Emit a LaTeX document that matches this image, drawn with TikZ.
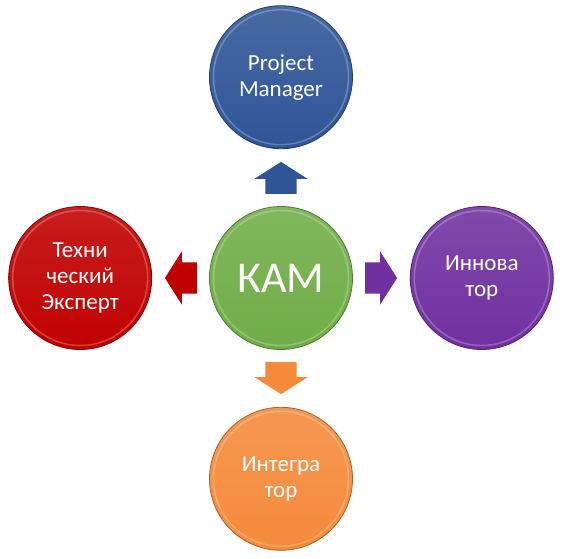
\documentclass[tikz,border=0pt]{standalone}
\usepackage{fontspec}
\setmainfont{Carlito}
\usetikzlibrary{positioning, shapes.arrows}
\definecolor{pmblue}{HTML}{2F5597}
\definecolor{expred}{HTML}{C00000}
\definecolor{kamgreen}{HTML}{70AD47}
\definecolor{innpurple}{HTML}{7030A0}
\definecolor{intorange}{HTML}{F58A3B}
\tikzset{
  role/.style={circle, minimum size=143pt, inner sep=0pt, align=center, text=white,
    font=\fontsize{23}{26}\selectfont, top color=#1!88!white, bottom color=#1,
    draw=#1!70!black, line width=.8pt,
    path picture={\draw[white, opacity=.25, line width=1.5pt] (path picture bounding box.center) circle (67.5pt);}},
  flow/.style={single arrow, draw=none, fill=#1, minimum height=32pt, minimum width=53pt,
    single arrow head extend=11pt, single arrow tip angle=115, inner xsep=0pt, inner ysep=15.5pt},
  upright/.style={inner xsep=15.5pt, inner ysep=0pt}
}
\begin{document}
\begin{tikzpicture}[node distance=57pt]
	\useasboundingbox (-281pt,-280pt) rectangle (282pt,278pt);
	\node[role=kamgreen, font=\fontsize{44}{50}\selectfont] (kam) {КАМ};
	\node[role=pmblue, above=of kam] (pm) {Project\\Manager};
	\node[role=expred, left=of kam] (exp) {Техни\\ческий\\Эксперт};
	\node[role=innpurple, right=of kam] (inn) {Иннова\\тор};
	\node[role=intorange, below=of kam] (int) {Интегра\\тор};
	\node[flow=pmblue, upright, shape border rotate=90, above=12pt of kam] (up) {};
	\node[flow=expred, shape border rotate=180, left=12pt of kam] (lt) {};
	\node[flow=innpurple, right=12pt of kam] (rt) {};
	\node[flow=intorange, upright, shape border rotate=270, below=12pt of kam] (dn) {};
\end{tikzpicture}
\end{document}
